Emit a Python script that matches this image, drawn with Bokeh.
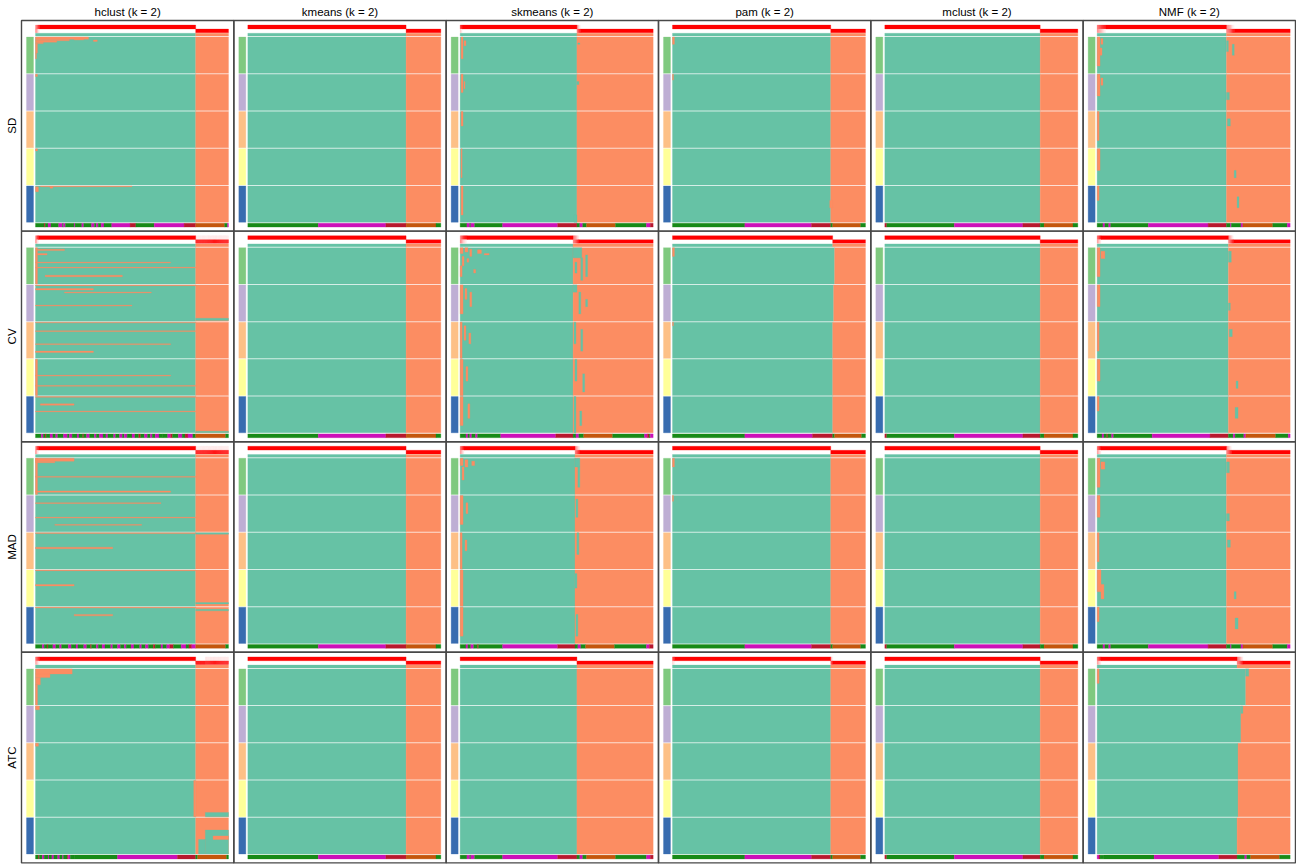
import math
from bokeh.plotting import figure
from bokeh.models import Range1d, ColumnDataSource
from bokeh.core.properties import value
from bokeh.embed import file_html
from bokeh.resources import INLINE

# ---------------- data ----------------
METHODS = ["hclust", "kmeans", "skmeans", "pam", "mclust", "NMF"]
TOP_VALUE_METHODS = ["SD", "CV", "MAD", "ATC"]
K = 2
N_SAMPLES = 200
N_ROWS = 50  # partitions per top-n group
TOPN_COLORS = ["#7FC97F", "#BEAED4", "#FDC086", "#FFFF99", "#386CB0"]
CLASS_COLORS = {"t": "#66C2A5", "o": "#FC8D62"}
ANNO_COLORS = {"G": "#178A17", "M": "#CC10B8", "R": "#B8182E", "O": "#C4560C"}

# number of samples in class 1 (rows: top-value method, cols: partition method)
CLASS1_SIZE = {
    "SD":  [166, 164, 121, 164, 161, 134],
    "CV":  [166, 164, 117, 166, 161, 136],
    "MAD": [166, 164, 119, 164, 161, 134],
    "ATC": [166, 164, 121, 164, 161, 145],
}
# boundary of the teal block for each of the 5 top-n groups (if it differs)
GROUP_SPLIT = {
    ("ATC", "NMF"): [154, 149, 146, 146, 145],
    ("CV", "pam"): [168, 167, 166, 166, 166],
}
# membership probability of the first columns of class 1 / class 2
PROB_HEAD1 = {
    ("SD", "hclust"): [0.5, 0.6, 0.75, 0.9],
    ("SD", "NMF"): [0.55, 0.6, 0.65, 0.7, 0.75, 0.8, 0.85, 0.9, 0.95],
    ("SD", "skmeans"): [0.8, 0.9],
    ("CV", "hclust"): [0.5, 0.7, 0.9],
    ("CV", "skmeans"): [0.5, 0.6, 0.7, 0.8, 0.85, 0.9, 0.95],
    ("CV", "NMF"): [0.6, 0.7, 0.8, 0.9],
    ("MAD", "hclust"): [0.5, 0.7, 0.9],
    ("MAD", "skmeans"): [0.6, 0.7, 0.8, 0.9],
    ("MAD", "NMF"): [0.6, 0.7, 0.8, 0.9],
    ("ATC", "hclust"): [0.6, 0.7, 0.8, 0.9],
    ("ATC", "NMF"): [0.6, 0.7, 0.8, 0.9],
    ("ATC", "pam"): [0.8, 0.9],
}
PROB_HEAD2 = {
    ("SD", "skmeans"): [0.55, 0.7, 0.85, 0.95],
    ("SD", "NMF"): [0.5, 0.55, 0.6, 0.65, 0.7, 0.8, 0.9, 0.95],
    ("CV", "skmeans"): [0.5, 0.55, 0.6, 0.7, 0.8, 0.9],
    ("CV", "hclust"): [0.92] * 34,
    ("CV", "NMF"): [0.5, 0.6, 0.7, 0.8, 0.9],
    ("MAD", "hclust"): [0.92] * 34,
    ("MAD", "skmeans"): [0.5, 0.6, 0.7, 0.8, 0.9],
    ("MAD", "NMF"): [0.5, 0.6, 0.7, 0.8, 0.9],
    ("ATC", "hclust"): [1.0] * 10 + [0.9] * 24,
    ("ATC", "NMF"): [0.5, 0.55, 0.6, 0.7, 0.8, 0.9],
    ("ATC", "pam"): [0.7, 0.9],
}
# known sample annotation (bottom bar), as runs "<category><length>"
ANNOTATION = {
    ("SD", "hclust"): "G9 R1 G3 M3 G8 M4 G1 M2 G9 M1 G7 M2 G8 M3 G2 M2 G3 M3 G8 M19 R6 G19 M31 R12 O30 G3 M1",
    ("SD", "kmeans"): "G73 M70 R21 O31 G5",
    ("SD", "skmeans"): "G7 M3 G1 M4 G29 M57 R20 G3 M3 G4 O30 G32 M4 R3",
    ("SD", "pam"): "G75 M69 R20 G2 O29 G5",
    ("SD", "mclust"): "R2 G70 M71 R18 G4 O30 G5",
    ("SD", "NMF"): "G6 M2 G4 M2 G39 M62 R19 G4 M1 G10 M2 O31 G15 M3",
    ("CV", "hclust"): "G6 M2 G2 R1 G4 M3 G3 M2 G6 M4 G2 M3 G5 M2 G4 R1 G3 M3 G5 M2 G3 M4 G3 M2 G6 M2 G4 M3 G2 M3 G5 M3 G4 R2 G4 M3 G3 M2 G3 M4 G4 G5 M3 R2 G6 M4 G3 R3 M5 G3 O31 G3",
    ("CV", "kmeans"): "G73 M70 R21 O31 G5",
    ("CV", "skmeans"): "G6 M2 G2 M2 G4 M2 G24 M57 R18 G3 M3 G5 O30 G33 M3 R2 G1 M4",
    ("CV", "pam"): "G75 M70 R21 G2 O28 G4",
    ("CV", "mclust"): "R2 G70 M71 R18 G4 O30 G5",
    ("CV", "NMF"): "G5 M2 G3 R1 G4 M2 G40 M60 R19 G5 M2 G9 M2 O31 G13 M3",
    ("MAD", "hclust"): "G7 M2 G3 R1 G5 M3 G4 M2 G7 M3 G5 M2 G6 M3 G4 R1 G5 M2 G4 M3 G6 M2 G5 M3 G4 M2 G5 M3 G6 M2 G4 M3 G5 R2 G6 M2 G4 M3 R4 G8 M5 G3 R3 M4 O31 G3",
    ("MAD", "kmeans"): "G73 M70 R21 O31 G5",
    ("MAD", "skmeans"): "G6 M2 G3 M3 G4 R1 G25 M57 R18 G3 M3 G5 O30 G33 M3 R4",
    ("MAD", "pam"): "G75 M69 R20 G2 O29 G5",
    ("MAD", "mclust"): "R2 G70 M71 R18 G4 O30 G5",
    ("MAD", "NMF"): "G6 M2 G4 M2 G39 M62 R19 G4 M1 G10 M2 O31 G15 M3",
    ("ATC", "hclust"): "G3 R1 G3 M2 G4 M1 G3 M2 G4 M2 G3 M1 G4 R1 M2 G4 G45 M62 R19 G2 O30 G2",
    ("ATC", "kmeans"): "G73 M70 R21 O31 G5",
    ("ATC", "skmeans"): "G7 M3 G1 M4 G29 M57 R20 G3 M3 G4 O30 G32 M4 R3",
    ("ATC", "pam"): "G75 M69 R20 G2 O29 G5",
    ("ATC", "mclust"): "R2 G70 M71 R18 G4 O30 G5",
    ("ATC", "NMF"): "M2 R1 G4 G52 M67 R19 G8 M2 G4 O30 G11",
}
# partitions that disagree with the consensus: (group, row0, row1, col0, col1, class)
PATCHES = {
    ("SD", "hclust"): [
        (0, 0, 3, 0, 55, "o"), (0, 3, 5, 0, 35, "o"), (0, 5, 7, 0, 22, "o"), (0, 7, 9, 0, 8, "o"),
        (0, 3, 4, 40, 50, "o"), (0, 9, 22, 0, 2, "o"), (0, 4, 6, 60, 64, "o"), (0, 22, 30, 0, 1, "o"),
        (1, 0, 3, 0, 2, "o"), (3, 0, 3, 0, 2, "o"), (4, 0, 1, 5, 100, "o"), (4, 1, 8, 0, 3, "o"), (4, 1, 3, 15, 18, "o"),
    ],
    ("SD", "skmeans"): [
        (0, 0, 30, 1, 3, "o"), (0, 5, 12, 4, 6, "o"), (1, 0, 25, 1, 3, "o"), (1, 10, 20, 4, 5, "o"),
        (2, 0, 20, 1, 3, "o"), (3, 0, 40, 1, 2, "o"), (4, 0, 40, 1, 3, "o"), (4, 40, 50, 118, 121, "t"),
        (0, 8, 10, 122, 124, "t"), (1, 10, 14, 121, 123, "t"),
    ],
    ("SD", "pam"): [(0, 0, 10, 0, 2, "o"), (1, 0, 8, 0, 1, "o"), (4, 20, 30, 163, 166, "o")],
    ("SD", "NMF"): [
        (0, 0, 40, 0, 3, "o"), (0, 2, 10, 4, 6, "o"), (0, 15, 25, 3, 5, "o"), (1, 0, 30, 0, 3, "o"),
        (1, 5, 15, 4, 6, "o"), (2, 0, 40, 0, 2, "o"), (3, 0, 30, 0, 3, "o"), (4, 0, 20, 0, 2, "o"),
        (0, 5, 20, 134, 136, "t"), (0, 10, 25, 140, 142, "t"), (1, 25, 35, 134, 137, "t"),
        (2, 10, 20, 135, 138, "t"), (3, 30, 40, 142, 144, "t"), (4, 15, 30, 145, 147, "t"),
    ],
    ("CV", "hclust"): [
        (0, 0, 50, 0, 2, "o"), (0, 2, 4, 2, 30, "o"), (0, 20, 21, 0, 140, "o"), (0, 27, 28, 0, 166, "o"),
        (0, 8, 10, 2, 12, "o"), (0, 38, 40, 10, 90, "o"), (1, 0, 1, 0, 166, "o"), (1, 5, 7, 0, 60, "o"),
        (1, 10, 11, 30, 120, "o"), (1, 46, 49, 166, 200, "t"), (1, 28, 29, 0, 100, "o"),
        (2, 0, 1, 0, 166, "o"), (2, 12, 13, 0, 166, "o"), (2, 30, 31, 0, 140, "o"), (2, 40, 42, 0, 60, "o"),
        (3, 0, 50, 0, 2, "o"), (3, 22, 23, 0, 140, "o"), (3, 36, 37, 0, 166, "o"),
        (4, 0, 1, 0, 166, "o"), (4, 10, 12, 5, 40, "o"), (4, 48, 50, 166, 200, "t"), (4, 20, 21, 0, 166, "o"),
    ],
    ("CV", "skmeans"): [
        (0, 0, 8, 0, 3, "o"), (0, 0, 6, 5, 8, "o"), (0, 2, 12, 10, 12, "o"), (0, 3, 8, 18, 22, "o"),
        (0, 8, 10, 25, 30, "o"), (0, 12, 25, 2, 4, "o"), (0, 15, 20, 7, 9, "o"), (0, 25, 40, 0, 2, "o"),
        (0, 30, 35, 14, 16, "o"), (0, 0, 14, 117, 126, "t"), (0, 14, 45, 125, 127, "t"), (0, 10, 40, 130, 132, "t"),
        (0, 20, 35, 119, 121, "t"), (1, 0, 40, 0, 3, "o"), (1, 5, 20, 5, 7, "o"), (1, 10, 30, 10, 12, "o"),
        (1, 0, 10, 117, 121, "t"), (1, 10, 40, 123, 125, "t"), (1, 20, 30, 130, 132, "t"),
        (2, 0, 50, 0, 2, "o"), (2, 5, 25, 4, 6, "o"), (2, 15, 30, 9, 11, "o"), (2, 0, 30, 118, 120, "t"), (2, 10, 40, 125, 127, "t"),
        (3, 0, 50, 0, 3, "o"), (3, 10, 30, 6, 8, "o"), (3, 0, 30, 119, 121, "t"), (3, 20, 45, 127, 129, "t"),
        (4, 0, 40, 0, 3, "o"), (4, 10, 30, 8, 10, "o"), (4, 0, 50, 118, 120, "t"), (4, 20, 40, 124, 126, "t"),
    ],
    ("CV", "pam"): [(0, 0, 12, 0, 2, "o"), (2, 0, 5, 0, 1, "o")],
    ("CV", "NMF"): [
        (0, 0, 40, 0, 3, "o"), (0, 5, 15, 4, 8, "o"), (1, 0, 30, 0, 3, "o"), (2, 0, 40, 0, 2, "o"),
        (3, 0, 30, 0, 3, "o"), (4, 0, 20, 0, 2, "o"), (0, 5, 20, 136, 139, "t"), (1, 25, 35, 136, 138, "t"),
        (2, 10, 20, 137, 140, "t"), (3, 30, 40, 144, 146, "t"), (4, 15, 30, 143, 146, "t"),
    ],
    ("MAD", "hclust"): [
        (0, 0, 4, 0, 40, "o"), (0, 4, 6, 0, 20, "o"), (0, 0, 50, 0, 2, "o"), (0, 25, 26, 0, 166, "o"),
        (0, 45, 47, 0, 140, "o"), (1, 10, 11, 0, 130, "o"), (1, 30, 31, 0, 166, "o"), (1, 40, 41, 20, 110, "o"),
        (2, 0, 1, 0, 166, "o"), (2, 20, 22, 0, 80, "o"), (2, 0, 2, 166, 200, "t"),
        (3, 0, 1, 0, 166, "o"), (3, 45, 47, 166, 200, "t"), (4, 0, 1, 0, 166, "o"), (4, 3, 5, 166, 200, "t"),
        (4, 10, 12, 40, 80, "o"), (3, 20, 22, 0, 40, "o"),
    ],
    ("MAD", "skmeans"): [
        (0, 0, 10, 0, 3, "o"), (0, 2, 12, 5, 8, "o"), (0, 4, 10, 12, 15, "o"), (0, 12, 30, 2, 4, "o"),
        (0, 0, 12, 119, 124, "t"), (0, 12, 40, 122, 124, "t"), (1, 0, 40, 0, 3, "o"), (1, 10, 25, 6, 8, "o"),
        (1, 5, 30, 120, 122, "t"), (2, 0, 50, 0, 2, "o"), (2, 10, 25, 5, 7, "o"), (2, 0, 30, 121, 123, "t"),
        (3, 0, 50, 0, 3, "o"), (3, 5, 25, 119, 121, "t"), (4, 0, 40, 0, 3, "o"), (4, 10, 40, 120, 122, "t"),
    ],
    ("MAD", "pam"): [(0, 0, 12, 0, 2, "o"), (1, 0, 8, 0, 1, "o")],
    ("MAD", "NMF"): [
        (0, 0, 40, 0, 3, "o"), (0, 5, 15, 4, 8, "o"), (1, 0, 30, 0, 3, "o"), (2, 0, 40, 0, 2, "o"),
        (3, 0, 30, 0, 4, "o"), (3, 20, 40, 4, 7, "o"), (4, 0, 20, 0, 2, "o"), (0, 5, 20, 134, 137, "t"),
        (1, 25, 35, 134, 137, "t"), (2, 10, 20, 135, 138, "t"), (3, 30, 40, 142, 144, "t"), (4, 15, 30, 143, 146, "t"),
    ],
    ("ATC", "hclust"): [
        (0, 0, 7, 0, 38, "o"), (0, 7, 12, 0, 15, "o"), (0, 12, 22, 0, 5, "o"), (0, 22, 50, 0, 2, "o"),
        (1, 0, 5, 0, 4, "o"), (2, 0, 4, 0, 3, "o"), (3, 0, 50, 164, 166, "o"),
        (3, 44, 50, 176, 200, "t"), (4, 17, 50, 176, 200, "t"), (4, 30, 50, 169, 176, "t"), (4, 25, 30, 184, 200, "o"),
    ],
    ("ATC", "NMF"): [(0, 0, 10, 154, 157, "t"), (1, 0, 10, 149, 151, "t"), (0, 0, 20, 0, 2, "o")],
}

# ---------------- layout (pixels) ----------------
W, H = 1296, 864
PX0, PY0 = 21.0, 20.0
PW, PH = 212.33, 210.6
MAIN_L, MAIN_R = 14.0, 207.0
ANNO_L, ANNO_R = 5.0, 12.0
PROB1 = (4.6, 8.4)
PROB2 = (8.6, 12.2)
CLS = (12.8, 15.6)
MAIN_T, MAIN_B = 16.6, 201.7
BOT = (202.8, 206.6)
GAP = 1.0

p = figure(width=W, height=H, x_range=Range1d(0, W), y_range=Range1d(H, 0),
           output_backend="svg", toolbar_location=None, min_border=0,
           background_fill_color="white", border_fill_color="white")
p.axis.visible = False
p.grid.visible = False
p.outline_line_color = None

L, R, T, B, C = [], [], [], [], []


def add(l, r, t, b, c):
    L.append(l); R.append(r); T.append(t); B.append(b); C.append(c)


def red(pv):
    g = int(round(255 * (1 - pv)))
    return "#%02X%02X%02X" % (255, g, g)


group_h = (MAIN_B - MAIN_T - 4 * GAP) / 5
row_h = group_h / N_ROWS
col_w = (MAIN_R - MAIN_L) / N_SAMPLES

borders = []
for i, tv in enumerate(TOP_VALUE_METHODS):
    for j, m in enumerate(METHODS):
        x0 = PX0 + j * PW
        y0 = PY0 + i * PH
        mx = x0 + MAIN_L
        cx = lambda c: mx + c * col_w
        n1 = CLASS1_SIZE[tv][j]
        # probability rows: individual columns for the listed heads, blocks for the rest
        h1 = PROB_HEAD1.get((tv, m), [])
        h2 = PROB_HEAD2.get((tv, m), [])
        for k, pv in enumerate(h1):
            add(cx(k), cx(k + 1), y0 + PROB1[0], y0 + PROB1[1], red(pv))
            add(cx(k), cx(k + 1), y0 + PROB2[0], y0 + PROB2[1], red(1 - pv))
        for k, pv in enumerate(h2):
            c = n1 + k
            add(cx(c), cx(c + 1), y0 + PROB1[0], y0 + PROB1[1], red(1 - pv))
            add(cx(c), cx(c + 1), y0 + PROB2[0], y0 + PROB2[1], red(pv))
        add(cx(len(h1)), cx(n1), y0 + PROB1[0], y0 + PROB1[1], red(1.0))
        if n1 + len(h2) < N_SAMPLES:
            add(cx(n1 + len(h2)), cx(N_SAMPLES), y0 + PROB2[0], y0 + PROB2[1], red(1.0))
        # class row
        add(cx(0), cx(n1), y0 + CLS[0], y0 + CLS[1], CLASS_COLORS["t"])
        add(cx(n1), cx(N_SAMPLES), y0 + CLS[0], y0 + CLS[1], CLASS_COLORS["o"])
        # main heatmap and left annotation
        splits = GROUP_SPLIT.get((tv, m), [n1] * 5)
        for g in range(5):
            gt = y0 + MAIN_T + g * (group_h + GAP)
            gb = gt + group_h
            add(x0 + ANNO_L, x0 + ANNO_R, gt, gb, TOPN_COLORS[g])
            add(cx(0), cx(splits[g]), gt, gb, CLASS_COLORS["t"])
            add(cx(splits[g]), cx(N_SAMPLES), gt, gb, CLASS_COLORS["o"])
        for (g, r0, r1, c0, c1, cl) in PATCHES.get((tv, m), []):
            gt = y0 + MAIN_T + g * (group_h + GAP)
            add(cx(c0), cx(c1), gt + r0 * row_h, gt + r1 * row_h, CLASS_COLORS[cl])
        # bottom annotation
        pos = 0
        for run in ANNOTATION[(tv, m)].split():
            cat, n = run[0], int(run[1:])
            add(cx(pos), cx(min(pos + n, N_SAMPLES)), y0 + BOT[0], y0 + BOT[1], ANNO_COLORS[cat])
            pos += n
        borders.append((x0, x0 + PW, y0, y0 + PH))

src = ColumnDataSource(dict(left=L, right=R, top=T, bottom=B, color=C))
p.quad(left="left", right="right", top="top", bottom="bottom", source=src,
       fill_color="color", line_color="color", line_width=0.3)

bl, br, bt, bb = zip(*borders)
p.quad(left=list(bl), right=list(br), top=list(bt), bottom=list(bb),
       fill_alpha=0, line_color="#484848", line_width=1.4)

# titles and row labels
tx = [PX0 + (j + 0.5) * PW for j in range(len(METHODS))]
titles = ["%s (k = %d)" % (m, K) for m in METHODS]
p.text(x=tx, y=[PY0 - 9] * len(tx), text=titles, text_align="center", text_baseline="middle",
       text_font=value("Liberation Sans"), text_font_size="11.5px", text_color="black")
ry = [PY0 + (i + 0.5) * PH for i in range(len(TOP_VALUE_METHODS))]
p.text(x=[11] * len(ry), y=ry, text=TOP_VALUE_METHODS, angle=math.pi / 2, text_align="center",
       text_baseline="middle", text_font=value("Liberation Sans"), text_font_size="11.5px",
       text_color="black")

open("out.html", "w").write(file_html(p, INLINE))
